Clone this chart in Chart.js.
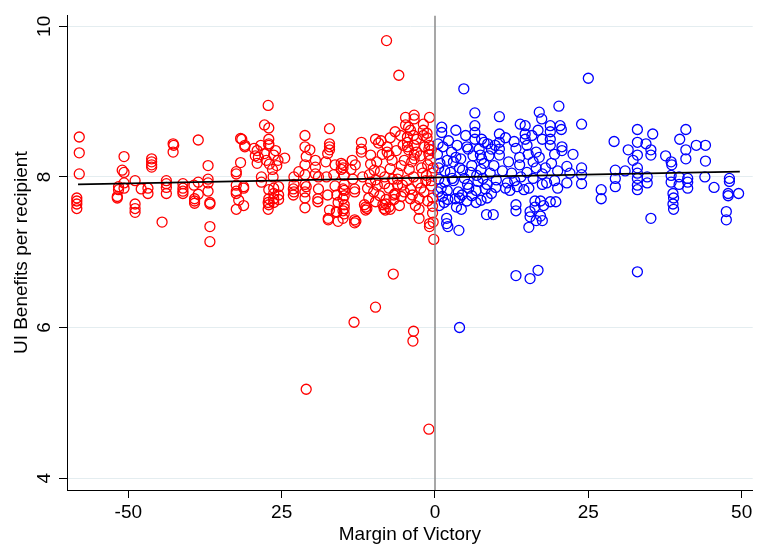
<!DOCTYPE html>
<html>
<head>
<meta charset="utf-8">
<script src="https://cdn.jsdelivr.net/npm/chart.js@4.4.1/dist/chart.umd.min.js"></script>
<style>
  body { margin: 0; background: #fff; }
  #wrap { width: 759px; height: 546px; }
</style>
</head>
<body>
<div id="wrap"><canvas id="chart"></canvas></div>
<script>
// axis ticks (the -25 tick is printed as "25" in the original)
const xTickValues = [-50, -25, 0, 25, 50];
const xTickLabels = ['-50', '25', '0', '25', '50'];
const yTickValues = [4, 6, 8, 10];
const xMin = -60, xMax = 51.8;
const yMin = 3.842, yMax = 10.145;

// fitted line
const fitX = [-58.2, 49.7];
const fitY = [7.90, 8.07];

// red: lost (margin < 0)
const redPts = [
  [-58.0,8.53],[-58.0,8.32],[-58.0,8.04],[-58.4,7.72],[-58.4,7.68],[-58.4,7.64],[-58.4,7.58],
  [-50.7,8.27],[-51.0,8.09],[-50.7,8.06],[-51.6,7.87],[-51.6,7.83],[-51.8,7.74],[-51.8,7.72],[-50.7,7.92],[-50.7,7.85],
  [-48.9,7.95],[-47.9,7.84],[-48.9,7.64],[-48.9,7.58],[-48.9,7.53],
  [-46.8,7.85],[-46.8,7.78],[-46.2,8.24],[-46.2,8.20],[-46.2,8.16],[-46.2,8.13],
  [-44.5,7.40],[-43.8,7.95],[-43.8,7.91],[-43.8,7.86],[-43.8,7.78],
  [-42.7,8.44],[-42.6,8.42],[-42.7,8.33],
  [-41.1,7.91],[-41.1,7.85],[-41.1,7.81],[-41.1,7.78],
  [-39.3,7.89],[-39.2,7.71],[-39.2,7.68],[-39.2,7.65],[-38.6,8.49],[-38.6,7.93],[-38.6,7.77],
  [-37.0,8.15],[-37.0,7.97],[-37.0,7.92],[-37.0,7.81],[-36.7,7.66],[-36.7,7.64],[-36.7,7.34],[-36.7,7.14],
  [-32.4,8.07],[-32.4,8.04],[-32.4,7.89],[-32.4,7.81],[-32.4,7.78],[-32.4,7.57],[-31.7,8.51],[-31.0,8.42],
  [-31.7,8.19],[-31.2,7.85],[-32.0,7.69],[-31.2,7.62],[-31.2,7.87],[-31.5,8.50],[-31.0,8.40],
  [-29.5,8.38],[-29.3,8.28],[-28.8,8.26],[-29.0,8.18],[-28.3,8.00],[-28.3,7.93],[-29.0,8.35],[-28.4,8.42],
  [-27.2,8.95],[-27.8,8.69],[-27.1,8.65],
  [-27.1,8.50],[-27.1,8.44],[-27.1,8.42],[-27.8,8.31],[-26.3,8.29],[-27.5,8.22],[-27.0,8.17],[-26.5,8.10],[-25.6,8.22],
  [-26.0,8.35],[-25.8,8.15],[-24.5,8.25],
  [-26.4,8.00],[-27.1,7.83],[-26.3,7.85],[-26.3,7.78],[-26.3,7.71],[-26.3,7.66],[-27.2,7.66],[-27.2,7.57],[-27.1,7.71],[-27.1,7.63],
  [-25.5,7.87],[-25.5,7.76],[-25.5,7.70],
  [-23.0,8.00],[-23.0,7.90],[-23.0,7.80],[-23.1,7.84],[-23.1,7.76],[-22.2,8.07],
  [-21.2,8.55],[-21.2,8.40],[-20.4,8.36],[-21.0,8.27],[-21.2,8.16],[-21.2,8.03],[-21.2,7.90],[-21.2,7.80],[-21.2,7.72],[-21.2,7.59],[-21.0,7.87],
  [-19.5,8.22],[-19.5,8.13],[-19.5,8.04],[-19.0,8.00],[-19.0,7.84],[-19.1,7.71],[-19.1,7.67],
  [-17.2,8.64],[-17.2,8.44],[-17.2,8.40],[-17.2,8.36],[-17.5,8.31],[-17.8,8.20],[-16.3,8.16],[-15.3,8.18],[-15.0,8.12],
  [-17.7,8.00],[-16.5,8.03],[-16.3,7.88],[-17.5,7.76],[-16.0,7.76],[-15.8,7.66],[-16.0,7.53],[-17.2,7.56],
  [-17.4,7.45],[-17.4,7.43],[-15.8,7.41],[-16.1,7.54],
  [-15.0,8.16],[-15.3,8.10],[-13.7,8.10],[-13.4,7.97],[-14.8,8.02],[-14.8,7.90],[-14.8,7.82],[-14.8,7.75],
  [-13.1,7.84],[-13.1,7.80],[-15.0,7.84],[-15.0,7.71],[-14.8,7.63],[-15.0,7.55],[-14.8,7.58],[-14.8,7.51],
  [-11.3,7.60],[-11.3,7.56],[-11.5,7.63],[-11.1,7.58],
  [-13.1,7.43],[-13.1,7.39],[-12.9,7.41],[-15.0,7.45],
  [-12.0,8.46],[-12.0,8.37],[-12.0,8.33],[-13.5,8.22],[-13.0,8.16],
  [-9.7,8.50],[-9.2,8.45],[-8.8,8.48],[-7.3,8.52],[-7.8,8.40],[-7.8,8.33],[-7.5,8.29],
  [-4.5,8.53],[-4.5,8.46],[-4.5,8.40],[-4.3,8.36],
  [-3.4,8.42],[-3.0,8.33],[-3.4,8.29],[-3.4,8.24],
  [-1.7,8.40],[-1.0,8.37],[-1.0,8.30],[-0.8,8.22],[-1.2,8.16],[-2.2,8.12],[-1.4,8.02],
  [-4.8,8.79],[-3.4,8.82],[-3.4,8.77],[-0.9,8.79],[-4.8,8.69],[-4.3,8.66],[-1.9,8.70],[-1.9,8.62],[-1.9,8.55],
  [-4.0,8.62],[-3.5,8.55],[-3.0,8.50],[-1.3,8.58],[-1.3,8.52],[-0.9,8.42],[-0.6,8.36],
  [-10.5,8.29],[-10.5,8.17],[-9.9,8.09],[-10.7,8.03],[-10.5,7.93],[-9.7,7.96],[-9.4,7.89],[-8.9,8.07],
  [-8.2,8.00],[-8.2,7.91],[-7.3,8.11],[-6.9,7.97],[-6.1,7.97],[-6.1,7.89],[-5.3,7.89],[-5.0,7.80],[-4.0,7.84],[-3.7,7.76],
  [-10.0,7.80],[-9.0,7.75],[-8.0,7.70],[-7.5,7.85],[-6.5,7.78],[-6.0,8.05],[-5.5,8.15],[-5.0,8.22],[-4.2,8.10],
  [-3.5,8.00],[-2.8,7.92],[-2.3,7.85],[-2.0,8.05],[-1.5,7.95],[-0.6,7.88],[-0.5,8.05],[-0.3,8.12],
  [-11.8,8.00],[-11.0,7.85],[-10.8,7.72],[-9.5,8.20],[-8.6,8.30],[-7.0,8.22],[-6.3,8.35],[-5.8,7.62],[-5.2,8.42],
  [-4.6,7.95],[-3.8,8.20],[-3.2,7.62],[-2.4,8.28],[-1.8,7.80],[-1.2,7.68],[-0.6,7.95],[-6.5,8.60],[-5.6,8.55],
  [-8.0,7.64],[-7.5,7.60],[-8.1,7.56],[-7.3,7.57],[-8.5,7.63],
  [-5.5,7.74],[-4.0,7.71],[-2.6,7.71],[-2.6,7.57],[-2.6,7.45],[-0.9,7.38],[-0.9,7.34],[-0.2,7.17],
  [-0.4,7.61],[-0.4,7.52],[-0.3,7.40],[-0.4,7.72],
  [-6.7,7.76],[-6.7,7.70],[-9.7,7.67],[-8.3,7.58],
  [-7.9,9.81],[-5.9,9.35],[-6.8,6.71],[-9.7,6.27],[-13.2,6.07],[-3.5,5.95],[-3.6,5.82],[-21.0,5.18],[-1.0,4.65]
];

// blue: won (margin > 0)
const bluePts = [
  [25.0,9.31],[4.7,9.17],[20.2,8.94],[6.5,8.85],[10.5,8.80],[17.0,8.86],[17.4,8.77],[23.9,8.70],[13.9,8.70],[14.7,8.68],
  [20.4,8.68],[20.6,8.63],[1.1,8.66],[1.1,8.59],[3.4,8.62],[6.5,8.68],[6.5,8.59],[6.5,8.50],[10.5,8.57],[10.5,8.46],
  [10.5,8.37],[10.5,8.29],[14.7,8.57],[14.7,8.50],[17.5,8.50],[18.8,8.68],[18.8,8.60],[18.8,8.50],[18.8,8.42],[12.9,8.47],
  [0.5,8.44],[5.2,8.40],[5.4,8.37],[7.6,8.50],[8.0,8.46],[8.6,8.44],[9.2,8.37],[2.7,8.33],[3.4,8.26],[4.2,8.24],
  [7.2,8.37],[7.4,8.29],[7.6,8.24],[13.2,8.38],[13.8,8.26],[15.0,8.42],[15.2,8.30],[16.5,8.33],[17.0,8.26],[20.7,8.40],[20.7,8.35],
  [0.8,8.18],[3.0,8.20],[6.0,8.15],[9.6,8.15],[13.8,8.16],[16.0,8.20],[16.5,8.12],[19.0,8.18],[21.5,8.14],[23.9,8.12],
  [1.6,8.08],[2.5,8.06],[4.5,8.09],[5.8,8.06],[7.5,8.10],[9.0,8.05],[11.0,8.08],[12.5,8.05],[15.0,8.06],[17.5,8.04],
  [20.0,8.08],[22.0,8.05],[23.9,8.03],
  [0.6,7.97],[1.6,7.93],[3.0,7.95],[5.3,7.90],[7.0,7.94],[8.5,7.90],[10.0,7.96],[11.8,7.92],[13.0,7.95],[14.5,7.83],
  [16.0,7.98],[17.5,7.90],[19.5,7.95],[20.0,7.85],[21.5,7.92],[23.9,7.91],[1.0,7.85],[2.0,7.82],[3.8,7.80],[5.5,7.85],
  [6.7,7.82],[8.2,7.84],[9.9,7.86],[11.5,7.85],[13.4,7.87],[15.3,7.85],
  [0.4,8.30],[0.6,8.12],[0.5,7.80],[0.7,7.62],[1.3,8.40],[2.2,8.48],[2.0,8.22],[2.8,7.98],[3.6,8.42],[4.0,8.12],
  [4.8,7.98],[4.4,7.76],[5.0,8.55],[6.2,8.28],[6.8,8.02],[7.8,7.98],[8.0,8.18],[8.8,8.28],[9.2,7.78],[9.8,8.42],
  [11.5,8.52],[12.0,8.20],[12.2,7.82],[14.0,8.00],[15.8,8.55],[16.8,8.62],[18.0,8.12],[18.2,7.92],[19.5,8.30],[22.5,8.30],
  [1.2,7.74],[1.5,7.66],[2.1,7.70],[3.3,7.71],[4.0,7.72],[5.2,7.68],[6.0,7.75],[6.7,7.66],[7.5,7.69],[8.5,7.72],
  [13.2,7.63],[13.2,7.55],[15.5,7.54],[16.3,7.68],[16.3,7.60],[17.2,7.68],[17.7,7.62],[18.8,7.67],[19.7,7.67],[3.5,7.60],[4.3,7.57],
  [8.4,7.50],[9.5,7.50],[1.9,7.45],[1.9,7.38],[2.1,7.34],[15.5,7.47],[16.5,7.42],[17.2,7.48],[17.5,7.42],[15.3,7.33],[3.9,7.29],
  [13.2,6.69],[15.5,6.65],[16.8,6.76],[4.0,6.00],[33.0,6.74],
  [33.0,8.63],[35.5,8.57],[40.9,8.63],[29.2,8.47],[33.0,8.46],[34.4,8.44],[39.9,8.50],[42.6,8.42],[44.1,8.42],[31.5,8.36],
  [33.0,8.29],[32.3,8.22],[35.2,8.36],[35.2,8.29],[37.6,8.28],[38.5,8.20],[38.6,8.16],[40.9,8.36],[40.9,8.24],[44.1,8.21],
  [29.4,8.09],[31.0,8.08],[33.0,8.12],[33.0,8.05],[34.6,8.00],[38.5,8.02],[39.8,8.00],[41.2,7.98],[44.0,8.00],[48.0,7.98],
  [29.4,7.98],[29.4,7.87],[33.0,7.98],[33.0,7.89],[33.0,7.83],[34.6,7.92],[38.5,7.93],[39.8,7.90],[41.2,7.93],[41.2,7.85],
  [45.5,7.86],[48.0,7.94],[47.8,7.78],[47.8,7.75],[49.5,7.78],
  [27.1,7.83],[27.1,7.71],[38.8,7.78],[38.9,7.72],[38.8,7.64],[38.9,7.57],[35.2,7.45],[47.5,7.54],[47.5,7.43]
];

const font = { family: '"Liberation Sans", Arial, sans-serif', size: 19, lineHeight: 1.2 };
const toXY = pts => pts.map(p => ({ x: p[0], y: p[1] }));

new Chart(document.getElementById('chart'), {
  type: 'scatter',
  data: {
    datasets: [
      {
        type: 'line',
        data: fitX.map((x, i) => ({ x: x, y: fitY[i] })),
        borderColor: '#000',
        borderWidth: 1.8,
        pointRadius: 0,
        fill: false
      },
      {
        type: 'line',
        data: [{ x: 0, y: yMin }, { x: 0, y: yMax }],
        borderColor: '#8a8a8a',
        borderWidth: 1.5,
        pointRadius: 0,
        fill: false
      },
      {
        data: toXY(redPts),
        borderColor: '#ff0000',
        backgroundColor: 'rgba(0,0,0,0)',
        borderWidth: 1.3,
        pointRadius: 5
      },
      {
        data: toXY(bluePts),
        borderColor: '#0000ff',
        backgroundColor: 'rgba(0,0,0,0)',
        borderWidth: 1.3,
        pointRadius: 5
      }
    ]
  },
  options: {
    responsive: true,
    maintainAspectRatio: false,
    animation: false,
    events: [],
    layout: { padding: { top: 12, right: 0, left: 0, bottom: 0 } },
    plugins: { legend: { display: false }, tooltip: { enabled: false } },
    scales: {
      x: {
        type: 'linear',
        min: xMin,
        max: xMax,
        afterBuildTicks: s => { s.ticks = xTickValues.map(v => ({ value: v })); },
        afterFit: s => { s.height = 56; },
        ticks: {
          callback: v => xTickLabels[xTickValues.indexOf(v)],
          font: font, color: '#000', padding: 3, maxRotation: 0, autoSkip: false
        },
        grid: { drawOnChartArea: false, tickLength: 8, tickColor: '#000' },
        border: { color: '#000', width: 1 },
        title: { display: true, text: 'Margin of Victory', font: font, color: '#000', padding: { top: 0, bottom: 0 } }
      },
      y: {
        type: 'linear',
        min: yMin,
        max: yMax,
        afterBuildTicks: s => { s.ticks = yTickValues.map(v => ({ value: v })); },
        afterFit: s => { s.width = 67; },
        ticks: {
          font: font, color: '#000', padding: 4, minRotation: 90, maxRotation: 90,
          crossAlign: 'center', autoSkip: false
        },
        grid: { color: '#e4edf0', lineWidth: 1, tickLength: 8, tickColor: '#000' },
        border: { color: '#000', width: 1 },
        title: { display: true, text: 'UI Benefits per recipient', font: font, color: '#000', padding: { top: 10, bottom: 0 } }
      }
    }
  }
});
</script>
</body>
</html>
